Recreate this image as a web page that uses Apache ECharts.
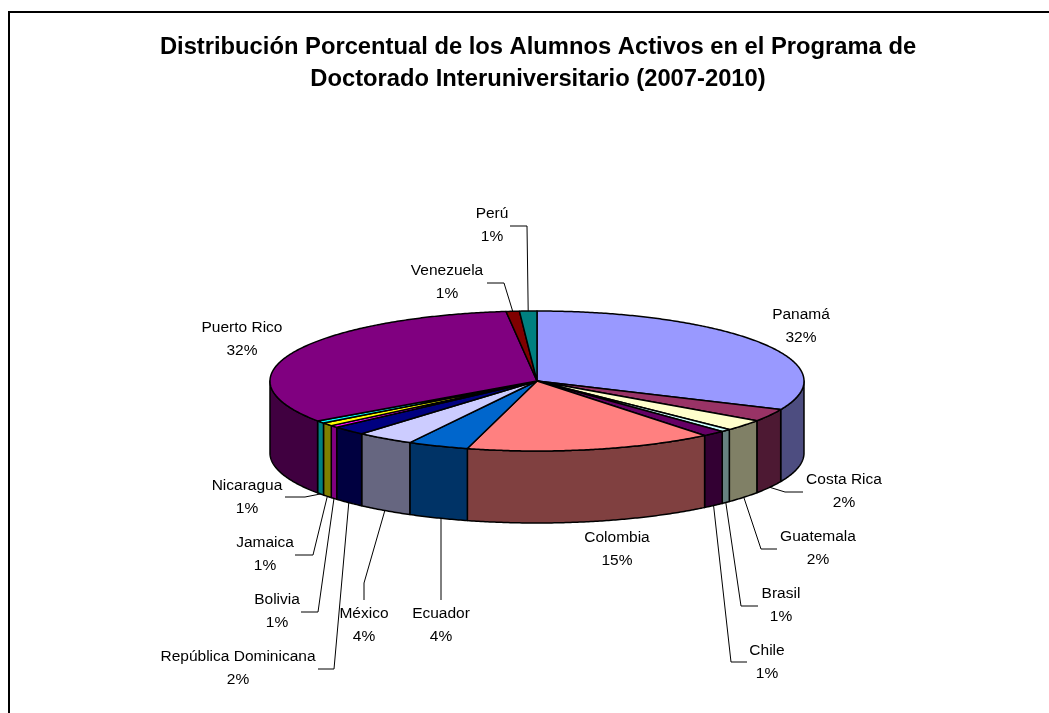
<!DOCTYPE html>
<html>
<head>
<meta charset="utf-8">
<style>html,body{margin:0;padding:0;background:#fff;overflow:hidden}#c{width:1049px;height:713px}</style>
<script src="https://cdn.jsdelivr.net/npm/echarts@6/dist/echarts.min.js"></script>
</head>
<body>
<div id="c"></div>
<script>
const titleLines = ['Distribución Porcentual de los Alumnos Activos en el Programa de', 'Doctorado Interuniversitario (2007-2010)'];
const categories = ['Panamá','Costa Rica','Guatemala','Brasil','Chile','Colombia','Ecuador','México','República Dominicana','Bolivia','Jamaica','Nicaragua','Puerto Rico','Venezuela','Perú'];
const values = [31.7,2.9,2.6,0.6,1.4,15.0,3.7,3.5,2.1,0.5,0.75,0.6,32.8,0.8,1.05];
const printedPercent = ['32%','2%','2%','1%','1%','15%','4%','4%','2%','1%','1%','1%','32%','1%','1%'];
const topColors = ['#9999FF','#993366','#FFFFCC','#CCFFFF','#660066','#FF8080','#0066CC','#CCCCFF','#000080','#FF00FF','#FFFF00','#00FFFF','#800080','#800000','#008080'];
const wallColors = ['#4D4D80','#4D1933','#808066','#668080','#330033','#804040','#003366','#666680','#000040','#800080','#808000','#008080','#400040','#400000','#004040'];

// layout only
const PIE = {cx:537, cy:381, rx:267, ry:70, depth:72};
const labelCenters = [[801,326],[844,491],[818,548.5],[781,605],[767,662],[617,549],[441,625.5],[364,625.5],[238,668.5],[277,611],[265,554],[247,497.5],[242,339],[447,282],[492,225.5]];
const leaderBends = [null,[[803,492],[785,492]],[[777,549],[761,549]],[[758,606],[741,606]],[[747,662],[731,662]],null,[[441,600]],[[364,600],[364,583]],[[318,669],[334,669]],[[301,612],[318,612]],[[295,555],[313,555]],[[285,497],[305,497]],null,[[487,283],[504,283]],[[510,226],[527,226]]];

const total = values.reduce((a,b)=>a+b,0);
const starts = [];
values.reduce((acc,v,i)=>{starts[i]=acc;return acc+v;},0);
const ang = v => v/total*360;
function rim(t, drop){
  const r = t*Math.PI/180;
  return [PIE.cx+PIE.rx*Math.sin(r), PIE.cy-PIE.ry*Math.cos(r)+(drop||0)];
}
function arc(a,b,drop){
  const pts=[], n=Math.max(2,Math.ceil((b-a)/0.5));
  for(let k=0;k<=n;k++) pts.push(rim(a+(b-a)*k/n,drop));
  return pts;
}
function renderItem(params, api){
  const i = api.value(0);
  const t0 = ang(starts[i]), t1 = ang(starts[i]+values[i]);
  const children=[];
  const w0=Math.max(t0,90), w1=Math.min(t1,270);
  if(w1>w0){
    children.push({type:'polygon',z2:1,shape:{points:arc(w0,w1,0).concat(arc(w0,w1,PIE.depth).reverse())},
      style:{fill:wallColors[i],stroke:'#000',lineWidth:1.5,lineJoin:'round'}});
  }
  children.push({type:'polygon',z2:2,shape:{points:[[PIE.cx,PIE.cy]].concat(arc(t0,t1,0))},
    style:{fill:topColors[i],stroke:'#000',lineWidth:1.5,lineJoin:'round'}});
  if(leaderBends[i]){
    const mid=(t0+t1)/2, front=Math.cos(mid*Math.PI/180)<0;
    const bends=leaderBends[i], end=rim(mid,front?PIE.depth:0), last=bends[bends.length-1];
    if(Math.abs(end[0]-last[0])<4 && bends.length===1) end[0]=last[0];
    children.push({type:'polyline',z2:0,shape:{points:bends.concat([end])},
      style:{fill:null,stroke:'#000',lineWidth:1}});
  }
  const lc=labelCenters[i];
  children.push({type:'text',z2:3,x:lc[0],y:lc[1],style:{text:categories[i]+'\n'+printedPercent[i],
    align:'center',verticalAlign:'middle',fill:'#000',font:'15.5px "Liberation Sans", Arial, sans-serif',lineHeight:23}});
  return {type:'group',children};
}
const chart = echarts.init(document.getElementById('c'),null,{renderer:'canvas'});
const titleStyle={fontFamily:'"Liberation Sans", Arial, sans-serif',fontSize:23.75,fontWeight:'bold',color:'#000'};
chart.setOption({
  animation:false,
  backgroundColor:'#fff',
  title:[
    {text:titleLines[0],left:538,top:35,padding:0,textAlign:'center',textStyle:titleStyle},
    {text:titleLines[1],left:538,top:67.5,padding:0,textAlign:'center',textStyle:titleStyle}
  ],
  graphic:[
    {type:'line',silent:true,shape:{x1:9,y1:12,x2:1049,y2:12},style:{stroke:'#000',lineWidth:2}},
    {type:'line',silent:true,shape:{x1:9,y1:11,x2:9,y2:713},style:{stroke:'#000',lineWidth:2}}
  ],
  series:[{type:'custom',coordinateSystem:'none',silent:true,renderItem,data:categories.map((c,i)=>[i,values[i]])}]
});
</script>
</body>
</html>
